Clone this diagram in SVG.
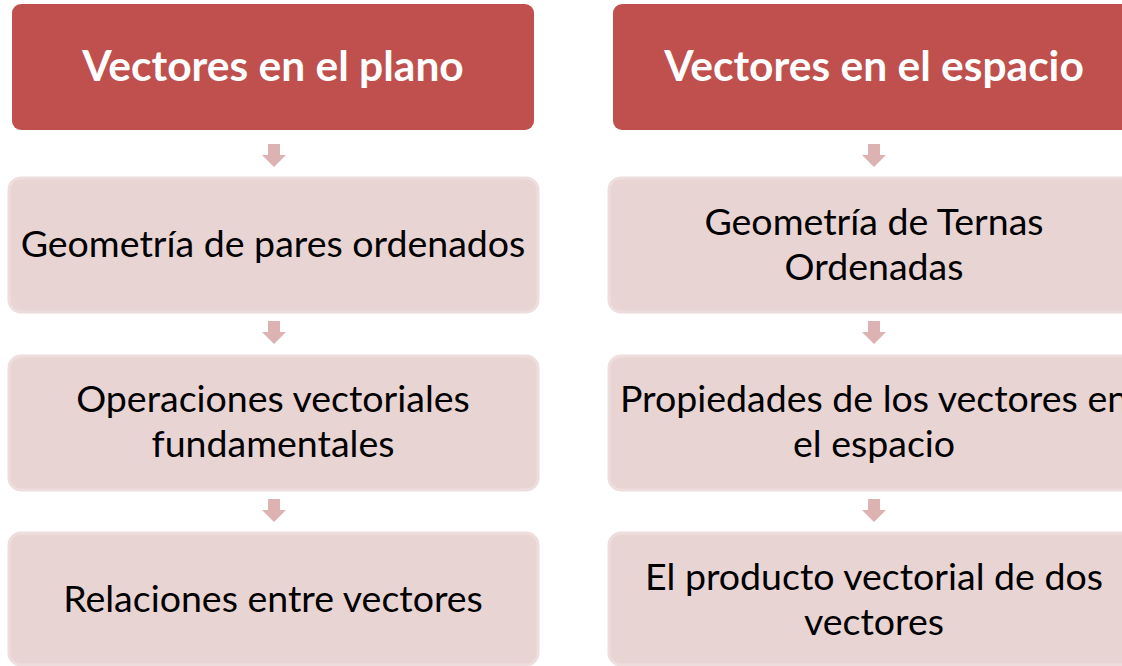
<svg xmlns="http://www.w3.org/2000/svg" width="1122" height="666" viewBox="0 0 1122 666">
<style>
.hdr{fill:#C0504D;}
.box{fill:#E9D4D4;stroke:#EEDDDD;stroke-width:3;}
.arr{fill:#DDB2B2;}
.ht{font-family:Lato,"Open Sans",sans-serif;font-weight:bold;font-size:42.5px;fill:#FFFFFF;text-anchor:middle;}
.bt{font-family:Lato,"Open Sans",sans-serif;font-size:37.5px;fill:#000000;text-anchor:middle;}
</style>
<defs>
<path id="dn" d="M-6,0 H6 V11 H12 L0,23 L-12,11 H-6 Z"/>
</defs>
<rect width="1122" height="666" fill="#FFFFFF"/>
<g id="connectors">
<use href="#dn" class="arr" x="274" y="144"/>
<use href="#dn" class="arr" x="274" y="321"/>
<use href="#dn" class="arr" x="274" y="499"/>
<use href="#dn" class="arr" x="874" y="144"/>
<use href="#dn" class="arr" x="874" y="321"/>
<use href="#dn" class="arr" x="874" y="499"/>
</g>
<g id="n1"><rect class="hdr" x="12" y="4" width="522" height="126" rx="9"/><text class="ht" x="273" y="81">Vectores en el plano</text></g>
<g id="n2"><rect class="box" x="9" y="178" width="529" height="134" rx="12"/><text class="bt" x="273" y="257">Geometría de pares ordenados</text></g>
<g id="n3"><rect class="box" x="9" y="356" width="529" height="134" rx="12"/><text class="bt" x="273" y="412">Operaciones vectoriales</text><text class="bt" x="273" y="457">fundamentales</text></g>
<g id="n4"><rect class="box" x="9" y="533" width="529" height="132" rx="12"/><text class="bt" x="273" y="612">Relaciones entre vectores</text></g>
<g id="n5"><rect class="hdr" x="613" y="4" width="522" height="126" rx="9"/><text class="ht" x="874" y="81">Vectores en el espacio</text></g>
<g id="n6"><rect class="box" x="609" y="178" width="529" height="134" rx="12"/><text class="bt" x="874" y="235">Geometría de Ternas</text><text class="bt" x="874" y="280">Ordenadas</text></g>
<g id="n7"><rect class="box" x="609" y="356" width="529" height="134" rx="12"/><text class="bt" x="874" y="412">Propiedades de los vectores en</text><text class="bt" x="874" y="457">el espacio</text></g>
<g id="n8"><rect class="box" x="609" y="533" width="529" height="132" rx="12"/><text class="bt" x="874" y="590">El producto vectorial de dos</text><text class="bt" x="874" y="635">vectores</text></g>
</svg>
